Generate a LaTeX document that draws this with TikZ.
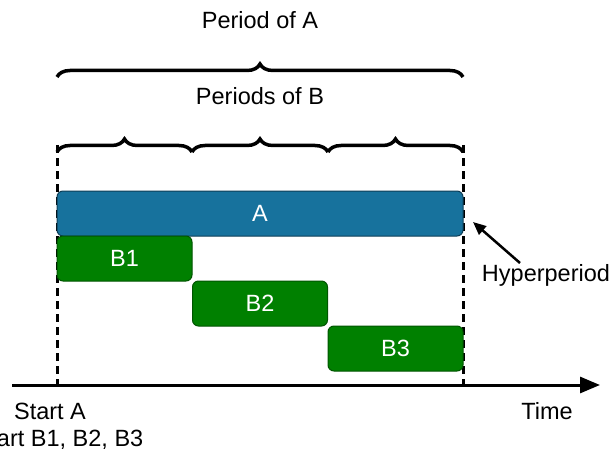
\documentclass[tikz,border=0pt]{standalone}
\usepackage{fontspec}
\setmainfont{Liberation Sans}
\usetikzlibrary{decorations.pathreplacing,arrows.meta}
\definecolor{taskA}{HTML}{17729D}
\definecolor{taskAline}{HTML}{0E3E57}
\definecolor{taskB}{HTML}{008000}
\definecolor{taskBline}{HTML}{005500}
\begin{document}
\begin{tikzpicture}[x=1pt,y=-1pt,
  lbl/.style={font=\fontsize{23.5}{28}\selectfont, inner sep=0pt},
  task/.style={draw, line width=1pt, rounded corners=6pt, inner sep=0pt,
    text=white, font=\fontsize{23.5}{28}\selectfont},
  taska/.style={task, fill=taskA, draw=taskAline, minimum width=406pt, minimum height=45pt},
  taskb/.style={task, fill=taskB, draw=taskBline, minimum width=135pt, minimum height=45pt},
  bracket/.style={decorate, decoration={brace, amplitude=13pt}, line width=3.5pt},
  bound/.style={line width=3pt, dash pattern=on 8pt off 5pt},
]
\useasboundingbox (0,0) rectangle (614,452);

% time axis
\coordinate (t0) at (12,385);
\coordinate (t1) at (600,385);
\draw[line width=3pt, -{Triangle[length=20pt,width=16pt]}] (t0) -- (t1);

% hyperperiod boundaries
\coordinate (l0) at (57,145);
\coordinate (l1) at (57,385);
\coordinate (r0) at (463,145);
\coordinate (r1) at (463,385);
\draw[bound] (l0) -- (l1);
\draw[bound] (r0) -- (r1);

% tasks
\node[taska] (A) at (260,213.5) {A};
\node[taskb] (B1) at (124.5,258.5) {B1};
\node[taskb] (B2) at (260,303.5) {B2};
\node[taskb] (B3) at (395.5,348.5) {B3};

% period braces
\coordinate (pa0) at (57,77);
\coordinate (pa1) at (463,77);
\draw[bracket] (pa0) -- (pa1);
\coordinate (pb0) at (57,152);
\coordinate (pb1) at (192,152);
\coordinate (pb2) at (328,152);
\coordinate (pb3) at (463,152);
\draw[bracket] (pb0) -- (pb1);
\draw[bracket] (pb1) -- (pb2);
\draw[bracket] (pb2) -- (pb3);

% labels
\node[lbl] (perA) at (260,20) {Period of A};
\node[lbl] (perB) at (260,96) {Periods of B};
\node[lbl] (startA) at (50,411) {Start A};
\node[lbl] (startB) at (59,440) {Start B1, B2, B3};
\node[lbl] (time) at (547,411) {Time};
\node[lbl] (hyper) at (546,275) {Hyperperiod};

% pointer to the end of the hyperperiod
\coordinate (hpTail) at (520,263);
\coordinate (hpTip) at (473,222);
\draw[line width=2.5pt, -{Triangle[length=13pt,width=11pt]}] (hpTail) -- (hpTip);
\end{tikzpicture}
\end{document}
